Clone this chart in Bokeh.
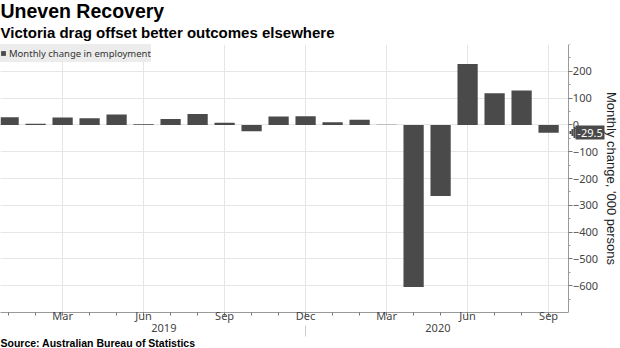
from bokeh.plotting import figure
from bokeh.models import (ColumnDataSource, Range1d, FixedTicker, LinearAxis, Title, Grid,
                          Legend, LegendItem, BoxAnnotation)
from bokeh.embed import file_html
from bokeh.resources import INLINE

# ---- data ----
months = ["Jan 2019", "Feb 2019", "Mar 2019", "Apr 2019", "May 2019", "Jun 2019",
          "Jul 2019", "Aug 2019", "Sep 2019", "Oct 2019", "Nov 2019", "Dec 2019",
          "Jan 2020", "Feb 2020", "Mar 2020", "Apr 2020", "May 2020", "Jun 2020",
          "Jul 2020", "Aug 2020", "Sep 2020"]
employment_change = [29, 4, 28, 25, 39, 2, 22, 41, 8, -24, 31, 32,
                     10, 19, 1, -605, -265, 227, 118, 128, -29.5]
month_tick_index = [2, 5, 8, 11, 14, 17, 20]
month_tick_labels = ["Mar", "Jun", "Sep", "Dec", "Mar", "Jun", "Sep"]
year_labels = ["2019", "2020"]
year_label_pos = [5.75, 15.9]
year_break = 11
y_ticks = [-600, -500, -400, -300, -200, -100, 0, 100, 200]
y_minor_ticks = [-650, -550, -450, -350, -250, -150, -50, 50, 150, 250, 300]

title_text = "Uneven Recovery"
subtitle_text = "Victoria drag offset better outcomes elsewhere"
source_text = "Source: Australian Bureau of Statistics"
legend_text = "Monthly change in employment"
y_label = "Monthly change, '000 persons"

FONT = "Noto Sans"
BOLD = "Liberation Sans"
BAR = "#4a4a4a"
GRID = "#e6e6e6"
AXIS = "#9a9a9a"
TXT = "#444444"

W, H = 620, 348
X_START, X_END = -0.3, 20.75          # plotted month span (axis sits at X_END)
PX_PER_MONTH = 27.0
X_VIEW_END = X_START + W / PX_PER_MONTH  # frame runs under the right-hand axis area

x = list(range(len(months)))
src = ColumnDataSource(dict(x=x, change=employment_change, month=months))

p = figure(width=W, height=H, x_range=Range1d(X_START, X_VIEW_END), y_range=Range1d(-700, 300),
           y_axis_location=None, output_backend="svg", toolbar_location=None, title=None,
           min_border_left=0, min_border_right=0, min_border_top=0, min_border_bottom=0)
p.outline_line_color = None
p.background_fill_color = "white"

# grids
p.xgrid.ticker = FixedTicker(ticks=month_tick_index)
p.xgrid.grid_line_color = GRID
ygrid = Grid(dimension=1, ticker=FixedTicker(ticks=y_ticks), grid_line_color=GRID)
p.add_layout(ygrid)
# keep the area under the value axis free of grid lines
p.add_layout(BoxAnnotation(left=X_END, fill_color="white", fill_alpha=1,
                           line_color=None, level="underlay"))

bars = p.vbar(x="x", top="change", bottom=0, width=0.75, source=src,
              fill_color=BAR, line_color=None)

# month axis
xa = p.xaxis[0]
xa.bounds = (X_START, X_END)
xa.ticker = FixedTicker(ticks=month_tick_index, minor_ticks=x)
xa.major_label_overrides = {i: l for i, l in zip(month_tick_index, month_tick_labels)}
xa.axis_line_color = AXIS
xa.major_tick_line_color = "#777777"
xa.minor_tick_line_color = "#777777"
xa.major_tick_in = 0
xa.major_tick_out = 3
xa.minor_tick_in = 0
xa.minor_tick_out = 3
xa.major_label_standoff = -8
xa.major_label_text_font = FONT
xa.major_label_text_font_size = "11px"
xa.major_label_text_color = TXT

# year axis
year_axis = LinearAxis(
    ticker=FixedTicker(ticks=year_label_pos, minor_ticks=[year_break]),
    major_label_overrides=dict(zip(year_label_pos, year_labels)),
    axis_line_color=None, major_tick_line_color=None,
    major_tick_in=0, major_tick_out=0, minor_tick_in=0, minor_tick_out=11,
    minor_tick_line_color="#cccccc", major_label_standoff=-13,
    major_label_text_font=FONT, major_label_text_font_size="11px",
    major_label_text_color=TXT)
p.add_layout(year_axis, "below")

# value axis on the right, at the end of the month span
ya = LinearAxis(
    fixed_location=X_END,
    ticker=FixedTicker(ticks=y_ticks, minor_ticks=y_minor_ticks),
    axis_line_color=AXIS, major_tick_line_color="#777777", minor_tick_line_color="#999999",
    major_tick_in=0, major_tick_out=4, minor_tick_in=0, minor_tick_out=2,
    major_label_standoff=0, major_label_text_font=FONT, major_label_text_font_size="11px",
    major_label_text_color=TXT,
    axis_label=y_label, axis_label_text_font=BOLD, axis_label_text_font_size="13px",
    axis_label_text_font_style="normal", axis_label_text_color="#222222",
    axis_label_standoff=3)
p.add_layout(ya, "right")

# legend
legend = Legend(items=[LegendItem(label=legend_text, renderers=[bars])],
                location="top_left", margin=0, padding=4, spacing=0,
                glyph_width=6, glyph_height=6, label_standoff=3, label_height=18,
                background_fill_color="#ececec", background_fill_alpha=1,
                border_line_color=None, label_text_font=FONT,
                label_text_font_size="9.5px", label_text_color="#333333")
p.add_layout(legend)

# last value callout, drawn as single-tick axes next to the value axis
last_val = employment_change[-1]
last_label = f"{last_val}"


def px_to_x(px):
    return X_END + px / PX_PER_MONTH


def callout_axis(offset_px, length_px, thickness, label="", standoff=0):
    return LinearAxis(
        fixed_location=px_to_x(offset_px),
        ticker=FixedTicker(ticks=[last_val], minor_ticks=[]),
        major_label_overrides={last_val: label},
        axis_line_color=None, major_tick_line_color=BAR,
        major_tick_line_width=thickness, major_tick_line_cap="butt",
        major_tick_in=0, major_tick_out=length_px,
        minor_tick_line_color=None,
        major_label_standoff=standoff, major_label_text_color="white",
        major_label_text_font=FONT, major_label_text_font_size="11px")


p.add_layout(callout_axis(0.5, 2, 3), "right")
p.add_layout(callout_axis(2.5, 2, 7), "right")
p.add_layout(callout_axis(4.5, 2, 11), "right")
p.add_layout(callout_axis(6.5, 29, 14, last_label, -27), "right")

# titles
p.add_layout(Title(text=subtitle_text, text_font=BOLD, text_font_size="15px",
                   text_font_style="bold", text_color="black", align="left",
                   standoff=7, offset=0), "above")
p.add_layout(Title(text=title_text, text_font=BOLD, text_font_size="19.5px",
                   text_font_style="bold", text_color="black", align="left",
                   standoff=-6, offset=0), "above")
p.add_layout(Title(text=source_text, text_font=BOLD, text_font_size="10.5px",
                   text_font_style="bold", text_color="black", align="left",
                   standoff=0, offset=0), "below")

open("out.html", "w").write(file_html(p, INLINE))
